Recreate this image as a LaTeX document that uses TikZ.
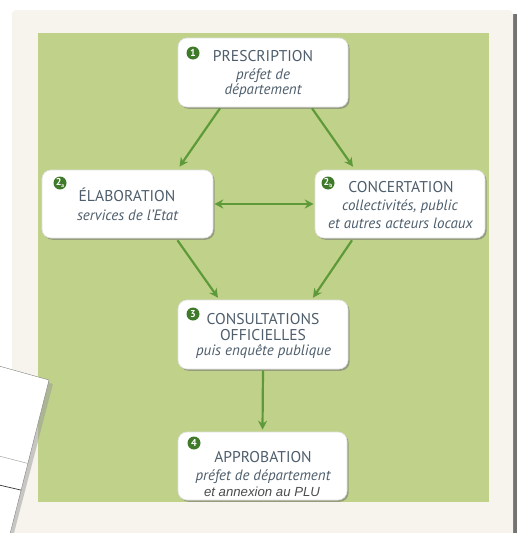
\documentclass[tikz,border=0pt]{standalone}
\usepackage{fontspec}
\setmainfont{PT Sans}
\newfontfamily\arialit{Liberation Sans}
\usetikzlibrary{arrows.meta,shadows,calc}
\definecolor{cream}{HTML}{F6F4EC}
\definecolor{leaf}{HTML}{C0D28A}
\definecolor{arrowgreen}{HTML}{5E9A3A}
\definecolor{badgegreen}{HTML}{3F7A2A}
\definecolor{txt}{HTML}{4E5E6C}
\tikzset{
  stepbox/.style={draw=black!12, fill=white, rounded corners=9pt, line width=0.6pt,
    drop shadow={shadow xshift=1.6pt, shadow yshift=-1.8pt, opacity=0.55, fill=black!55},
    minimum width=#1, inner sep=0pt},
  titletxt/.style={text=txt, font=\fontsize{15.6}{17}\selectfont, inner sep=0pt},
  subtxt/.style={text=txt, font=\fontsize{15}{17}\selectfont\itshape, inner sep=0pt},
  badge/.style={circle, fill=badgegreen, text=white, inner sep=0pt, minimum size=13pt,
    font=\fontsize{10}{10}\selectfont\bfseries},
  flow/.style={draw=arrowgreen, line width=2.2pt, -{Stealth[length=9pt,width=9pt]}},
  flow2/.style={draw=arrowgreen, line width=2.2pt, {Stealth[length=9pt,width=9pt]}-{Stealth[length=9pt,width=9pt]}}
}
\begin{document}
\begin{tikzpicture}[x=1pt,y=-1pt]
\useasboundingbox (0,0) rectangle (523,533);
% outer panel
\fill[black!55] (14,14) rectangle (517,533);
\fill[cream, rounded corners=4pt] (12,10) rectangle (513,540);
\fill[leaf] (38,33) rectangle (489,502);
% paper sheet at left
\begin{scope}
\fill[black!40, opacity=0.5] (0,370) -- (53,384) -- (14,533) -- (0,533) -- cycle;
\fill[white, draw=black!50, line width=0.4pt] (-1,366) -- (49,380) -- (10,534) -- (-1,534) -- cycle;
\clip (-1,366) -- (49,380) -- (10,534) -- (-1,534) -- cycle;
\draw[black!35, line width=0.5pt] (-1,456) -- (30,464);
\draw[black!80, line width=0.7pt] (-1,485) -- (25,491);
\end{scope}
% boxes
\node[stepbox=170pt, minimum height=69pt] (P) at (263,72.5) {};
\node[stepbox=171pt, minimum height=68pt] (E) at (127.5,204) {};
\node[stepbox=170pt, minimum height=68pt] (C) at (400,204) {};
\node[stepbox=170pt, minimum height=69pt] (K) at (263,334.5) {};
\node[stepbox=169pt, minimum height=68pt] (A) at (262.5,466) {};
% texts
\node[titletxt] (P1) at (263,56) {PRESCRIPTION};
\node[subtxt] (P2) at (263,76) {préfet de};
\node[subtxt] (P3) at (263,91) {département};
\node[titletxt] (E1) at (127,195) {ÉLABORATION};
\node[subtxt] (E2) at (127.5,215) {services de l’Etat};
\node[titletxt] (C1) at (401,187) {CONCERTATION};
\node[subtxt] (C2) at (400,207) {collectivités, public};
\node[subtxt] (C3) at (400.5,223) {et autres acteurs locaux};
\node[titletxt] (K1) at (263,319) {CONSULTATIONS};
\node[titletxt] (K2) at (263,335) {OFFICIELLES};
\node[subtxt] (K3) at (263.5,352) {puis enquête publique};
\node[titletxt] (A1) at (263,457) {APPROBATION};
\node[subtxt] (A2) at (263,477) {préfet de département};
\node[text=black!70, inner sep=0pt, font=\arialit\fontsize{13.2}{15}\selectfont\itshape] (A3) at (262,492) {et annexion au PLU};
% badges
\node[badge] (B1) at (193,53) {1};
\node[badge] (B2a) at (60,183) {2\raisebox{-1.5pt}{\fontsize{5.5}{5.5}\selectfont a}};
\node[badge] (B2b) at (328,183) {2\raisebox{-1.5pt}{\fontsize{5.5}{5.5}\selectfont b}};
\node[badge] (B3) at (193,314) {3};
\node[badge] (B4) at (194,443) {4};
% arrows
\draw[flow] ([xshift=-43pt,yshift=-1pt]P.south) -- ([xshift=52pt,yshift=3pt]E.north);
\draw[flow] ([xshift=49pt,yshift=-1pt]P.south) -- ([xshift=-47pt,yshift=3pt]C.north);
\draw[flow2] ([xshift=1pt]E.east) -- ([xshift=-1pt]C.west);
\draw[flow] ([xshift=50pt,yshift=-2pt]E.south) -- ([xshift=-45pt,yshift=2pt]K.north);
\draw[flow] ([xshift=-48pt,yshift=-2pt]C.south) -- ([xshift=50pt,yshift=2pt]K.north);
\draw[flow] ([yshift=-1pt]K.south) -- ([yshift=2pt]A.north);
\end{tikzpicture}
\end{document}
